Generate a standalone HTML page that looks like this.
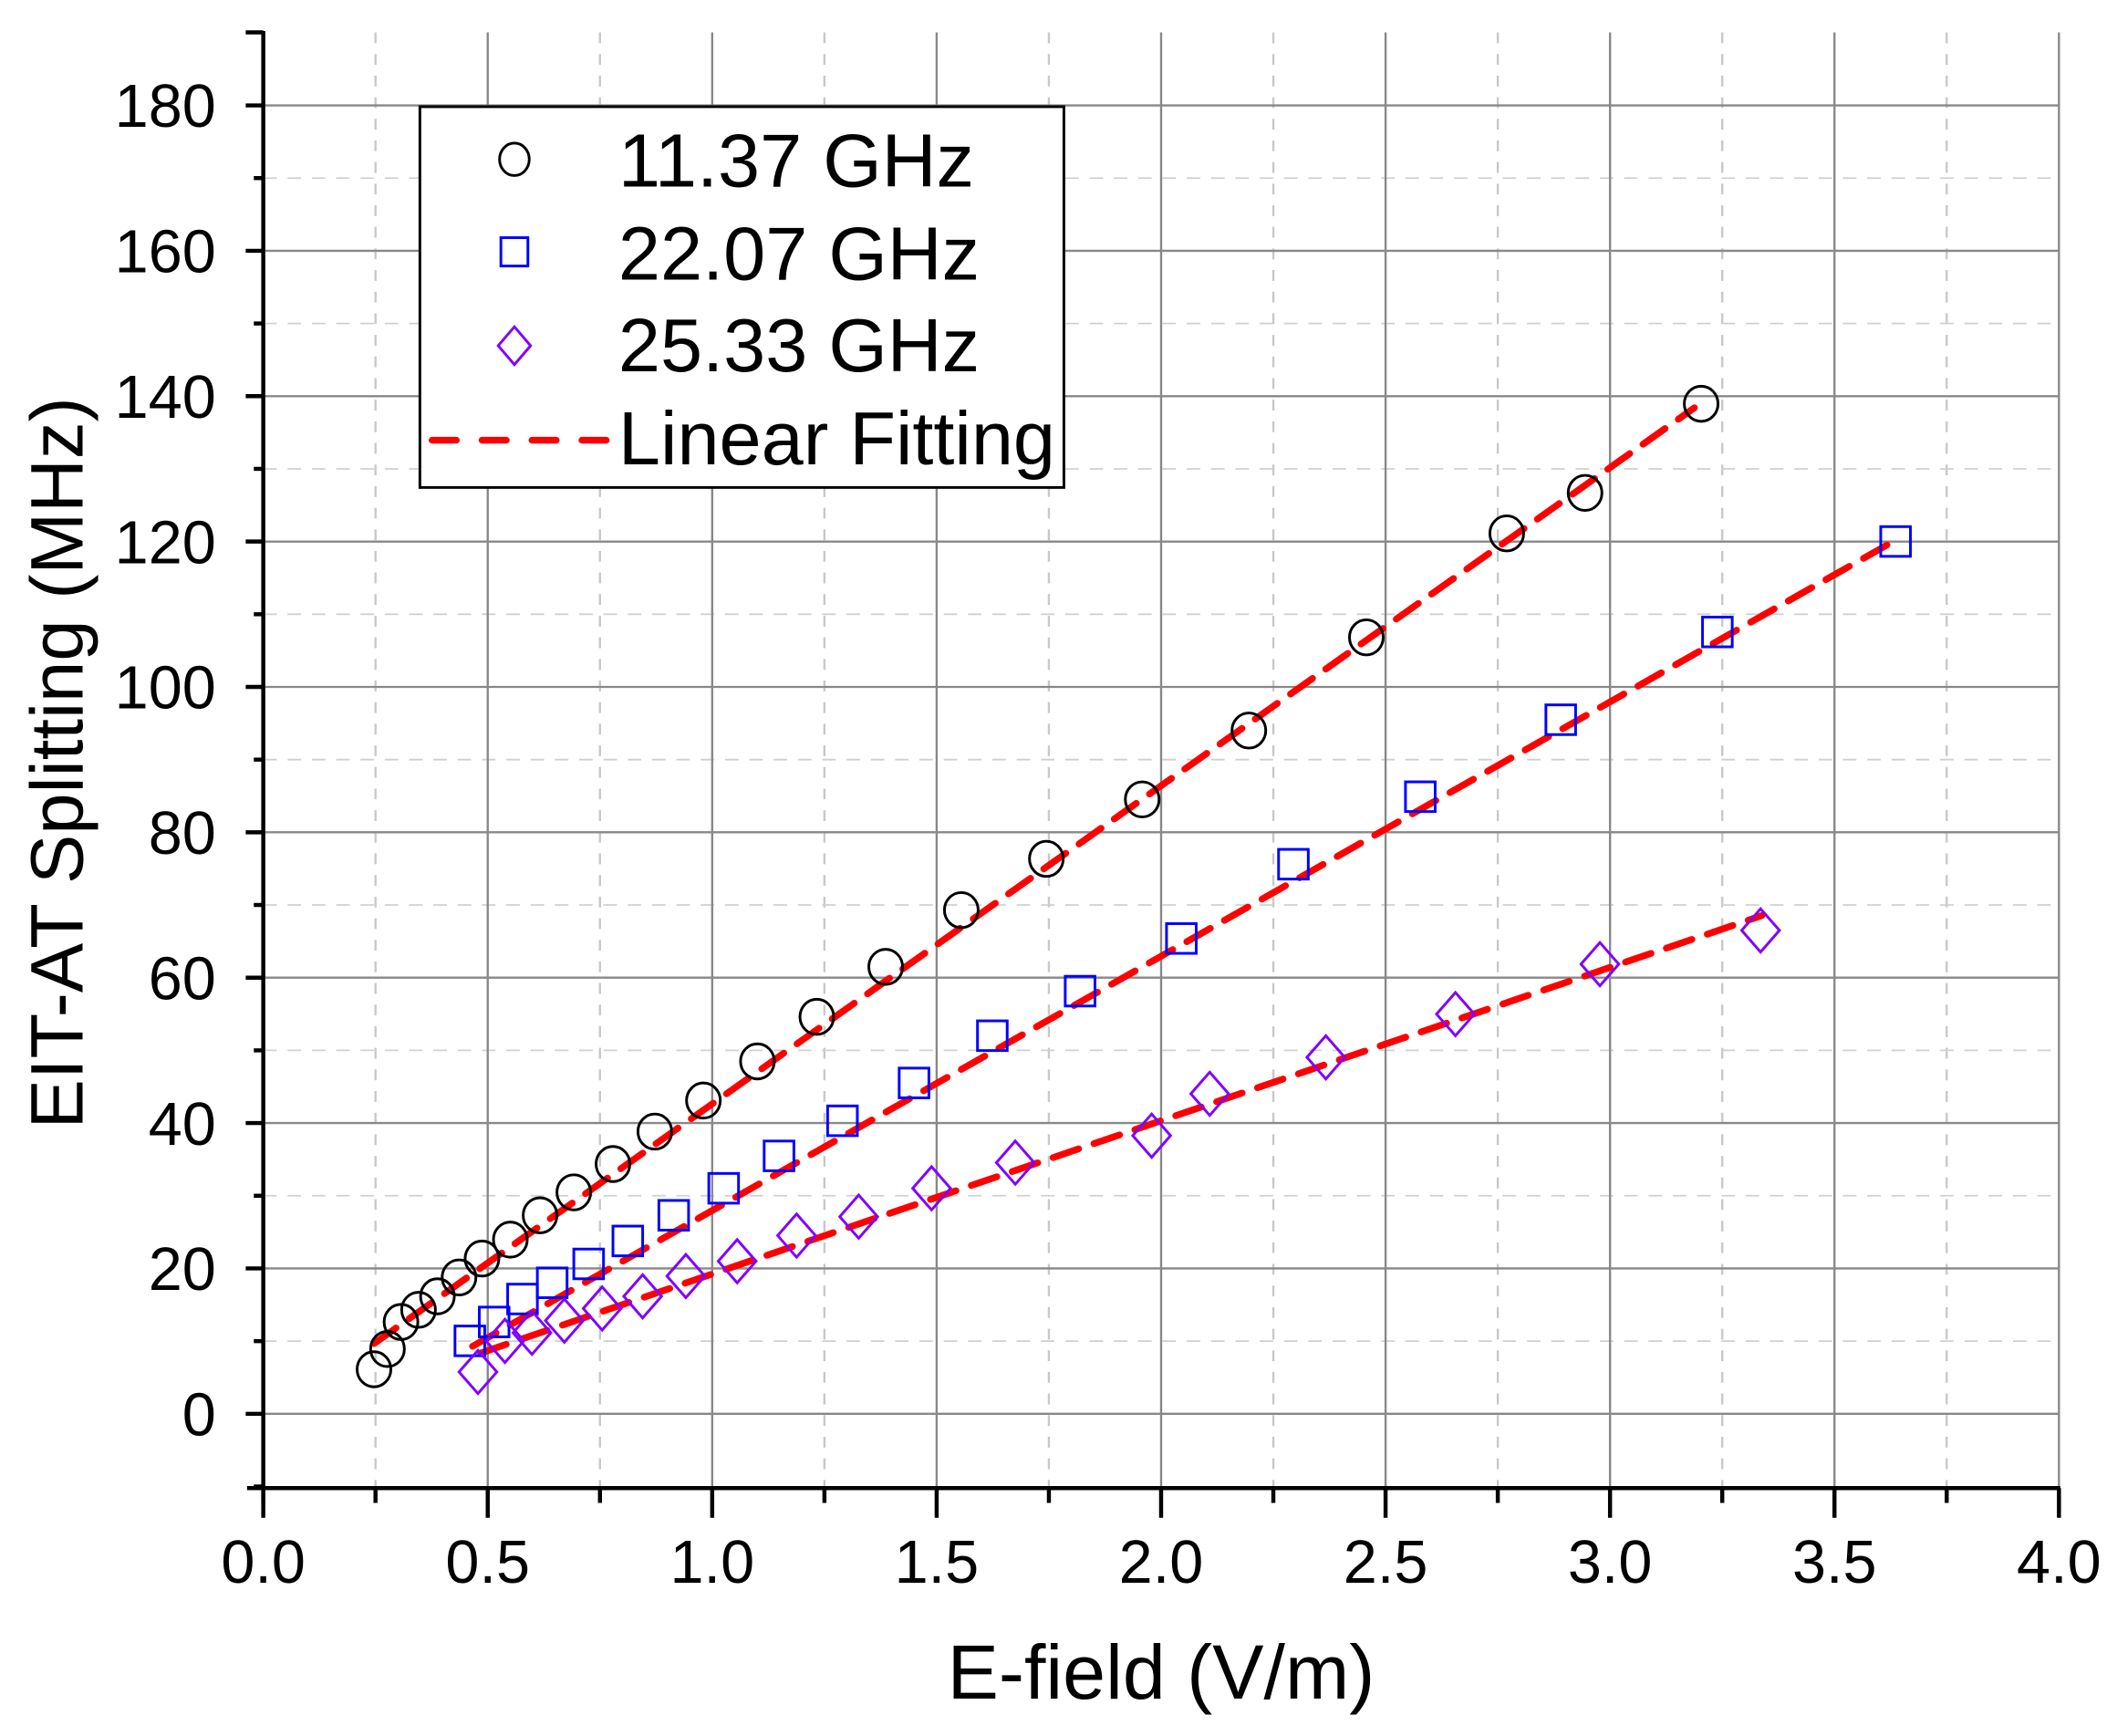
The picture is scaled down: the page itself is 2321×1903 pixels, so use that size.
<!DOCTYPE html>
<html><head><meta charset="utf-8"><style>html,body{margin:0;padding:0;background:#fff}svg{display:block}</style></head>
<body>
<svg width="2321" height="1903" viewBox="0 0 1568 1285.6" preserveAspectRatio="none" xmlns="http://www.w3.org/2000/svg" font-family="Liberation Sans, Arial, sans-serif">
<rect width="1568" height="1286" fill="#fff"/>
<g id="grid"></g>
<g id="rest"></g>
<script>
const NS="http://www.w3.org/2000/svg";
const X=v=>195+v*332.5, Y=v=>1047-v*5.383;
const g=document.getElementById('grid'), r=document.getElementById('rest');
function el(p,t,a){const e=document.createElementNS(NS,t);for(const k in a)e.setAttribute(k,a[k]);p.appendChild(e);return e;}
for(let v=0.25;v<4;v+=0.5) el(g,'line',{x1:X(v),x2:X(v),y1:24,y2:1102,stroke:'#c8c8c8','stroke-width':1.6,'stroke-dasharray':'8 8'});
for(let v=10;v<190;v+=20) el(g,'line',{x1:195,x2:1525,y1:Y(v),y2:Y(v),stroke:'#d0d0d0','stroke-width':1.2,'stroke-dasharray':'10 8'});
for(let v=0.5;v<=4.001;v+=0.5) el(g,'line',{x1:X(v),x2:X(v),y1:24,y2:1102,stroke:'#888','stroke-width':1.6});
for(let v=0;v<=180;v+=20) el(g,'line',{x1:195,x2:1525,y1:Y(v),y2:Y(v),stroke:'#888','stroke-width':1.6});
el(r,'line',{x1:195,x2:195,y1:23,y2:1113,stroke:'#000','stroke-width':3});
el(r,'line',{x1:183,x2:1526,y1:1102,y2:1102,stroke:'#000','stroke-width':3});
el(r,'line',{x1:182,x2:195,y1:24,y2:24,stroke:'#000','stroke-width':3});
for(let v=0;v<=180;v+=20){el(r,'line',{x1:182,x2:195,y1:Y(v),y2:Y(v),stroke:'#000','stroke-width':3});
 const t=el(r,'text',{x:160,y:Y(v)+16,'font-size':45,'text-anchor':'end'});t.textContent=v;}
for(let v=-10;v<190;v+=20) el(r,'line',{x1:188,x2:195,y1:Y(v),y2:Y(v),stroke:'#000','stroke-width':3});
for(let i=0;i<=8;i++){const v=i*0.5;el(r,'line',{x1:X(v),x2:X(v),y1:1102,y2:1124,stroke:'#000','stroke-width':3});
 const t=el(r,'text',{x:X(v),y:1172,'font-size':45,'text-anchor':'middle'});t.textContent=v.toFixed(1);}
for(let v=0.25;v<4;v+=0.5) el(r,'line',{x1:X(v),x2:X(v),y1:1102,y2:1113,stroke:'#000','stroke-width':3});
const fit=[[[277,995],[1255,302]],[[350,997],[1404,400]],[[356,1002],[1305,678]]];
fit.forEach(f=>el(r,'line',{x1:f[0][0],y1:f[0][1],x2:f[1][0],y2:f[1][1],stroke:'#f00','stroke-width':5,'stroke-dasharray':'20 12','stroke-linecap':'round'}));
const C=[[277,1014],[287,999],[297,979],[310,970],[324,960],[340,946],[357,932],[378,918],[400,900],[425,883],[454,862],[485,838],[521,815],[561,786],[605,753],[656,716],[712,674],[775,636],[846,592],[925,541],[1012,472],[1116,395],[1174,365],[1260,299]];
C.forEach(p=>el(r,'ellipse',{cx:p[0],cy:p[1],rx:12.5,ry:13,fill:'none',stroke:'#000','stroke-width':2}));
const S=[[348,993],[366,979],[387,962],[409,950],[436,936],[465,919],[499,900],[536,880],[577,856],[624,830],[677,802],[735,767],[800,734],[875,695],[958,640],[1052,590],[1156,533],[1272,468],[1404,401]];
S.forEach(p=>el(r,'rect',{x:p[0]-11,y:p[1]-11,width:22,height:22,fill:'none',stroke:'#00f','stroke-width':2}));
const D=[[354,1016],[374,993],[394,987],[418,978],[446,969],[476,960],[508,945],[546,934],[590,915],[636,901],[690,880],[752,861],[853,841],[896,810],[982,783],[1078,751],[1185,714],[1304,689]];
D.forEach(p=>el(r,'polygon',{points:`${p[0]},${p[1]-16} ${p[0]+14},${p[1]} ${p[0]},${p[1]+16} ${p[0]-14},${p[1]}`,fill:'none',stroke:'#8000ff','stroke-width':2}));
</script>
<rect x="311" y="79" width="477" height="282" fill="#fff" stroke="#000" stroke-width="2"/>
<ellipse cx="381" cy="118" rx="11" ry="12" fill="none" stroke="#000" stroke-width="2"/>
<rect x="371" y="176" width="20" height="21" fill="none" stroke="#00f" stroke-width="2"/>
<polygon points="381,242 393,256 381,270 369,256" fill="none" stroke="#8000ff" stroke-width="2"/>
<line x1="320" y1="326" x2="450" y2="326" stroke="#f00" stroke-width="5" stroke-dasharray="18 19" stroke-linecap="round"/>
<g font-size="56" fill="#000">
<text x="458" y="138">11.37 GHz</text>
<text x="458" y="207">22.07 GHz</text>
<text x="458" y="275">25.33 GHz</text>
<text x="458" y="344">Linear Fitting</text>
</g>
<text x="860" y="1258" font-size="57" text-anchor="middle">E-field (V/m)</text>
<text transform="translate(61,565) rotate(-90)" font-size="55" text-anchor="middle">EIT-AT Splitting (MHz)</text>
</svg>
</body></html>
